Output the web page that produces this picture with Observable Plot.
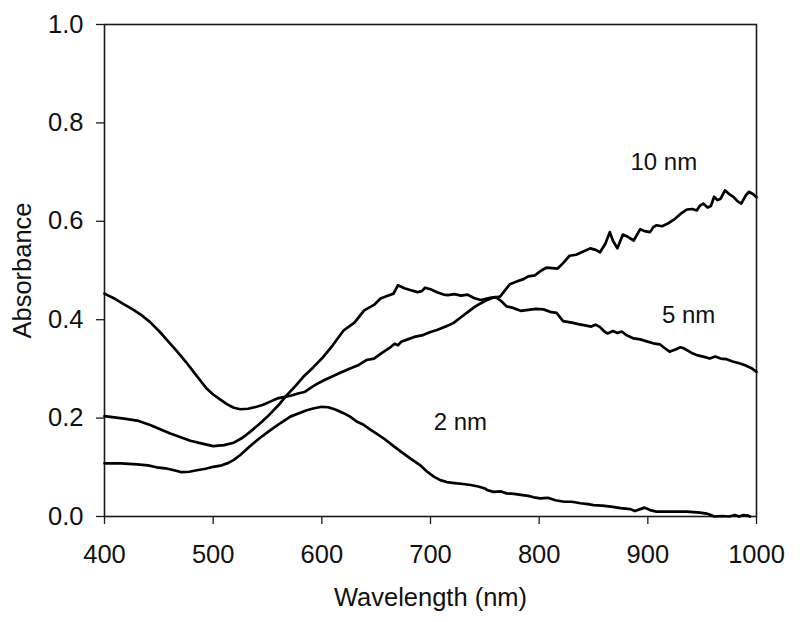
<!DOCTYPE html>
<html>
<head>
<meta charset="utf-8">
<script src="https://cdn.jsdelivr.net/npm/d3@7"></script>
<script src="https://cdn.jsdelivr.net/npm/@observablehq/plot@0.6"></script>
<style>
  html, body { margin: 0; padding: 0; background: #fff; }
  #chart { width: 800px; height: 622px; }
</style>
</head>
<body>
<div id="chart"></div>
<script>
// ---- Data ----
const xTicks = [400, 500, 600, 700, 800, 900, 1000];
const yTicks = [0, 0.2, 0.4, 0.6, 0.8, 1.0];

const wl2nm = [400,415,430,440,448,456,464,471,478,485,493,500,508,514,519,525,531,537,545,553,562,571,579,586,593,600,606,613,620,626,632,638,645,650,658,666,674,682,690,697,703,709,715,722,730,737,744,750,752,758,765,770,777,783,790,795,801,808,815,823,830,838,845,850,858,866,875,884,888,893,897,902,908,915,922,930,936,942,948,954,958,961,968,975,980,984,988,992,994];
const abs2nm = [0.108,0.108,0.106,0.104,0.100,0.098,0.094,0.090,0.091,0.094,0.097,0.101,0.104,0.109,0.115,0.125,0.137,0.149,0.163,0.176,0.190,0.203,0.210,0.216,0.220,0.223,0.222,0.217,0.210,0.203,0.193,0.187,0.176,0.169,0.157,0.143,0.130,0.117,0.105,0.091,0.081,0.074,0.070,0.068,0.066,0.064,0.061,0.057,0.054,0.050,0.051,0.047,0.046,0.044,0.042,0.039,0.037,0.038,0.033,0.030,0.030,0.027,0.025,0.023,0.022,0.020,0.017,0.015,0.011,0.015,0.018,0.013,0.010,0.010,0.010,0.010,0.010,0.009,0.008,0.006,0.003,0.000,0.001,0.000,0.003,0.000,0.003,0.002,0.000];

const wl5nm = [400,418,430,442,460,479,490,500,510,519,527,534,542,550,560,568,576,583,592,600,610,620,630,639,648,654,660,666,670,676,682,688,692,695,700,706,712,716,722,728,734,740,746,752,756,760,765,770,776,783,790,797,804,810,816,822,830,836,841,848,852,856,860,863,868,872,876,880,887,893,899,905,911,915,920,926,930,933,940,945,951,957,962,967,972,978,985,990,995,1000];
const abs5nm = [0.204,0.199,0.195,0.186,0.169,0.154,0.148,0.143,0.145,0.150,0.160,0.172,0.187,0.203,0.226,0.247,0.266,0.284,0.303,0.321,0.348,0.378,0.394,0.419,0.430,0.443,0.448,0.453,0.470,0.464,0.460,0.456,0.458,0.465,0.462,0.456,0.451,0.450,0.452,0.449,0.451,0.444,0.440,0.443,0.445,0.446,0.438,0.427,0.424,0.418,0.420,0.422,0.421,0.416,0.414,0.397,0.394,0.391,0.389,0.386,0.390,0.385,0.376,0.372,0.377,0.373,0.376,0.369,0.362,0.360,0.356,0.352,0.350,0.343,0.335,0.340,0.344,0.342,0.333,0.328,0.325,0.321,0.325,0.321,0.320,0.315,0.311,0.307,0.302,0.294];

const wl10nm = [400,410,418,426,433,442,451,459,467,475,482,488,494,500,507,513,519,525,532,540,546,552,559,566,572,578,584,590,596,602,610,618,626,634,641,648,655,662,667,670,673,679,685,692,700,706,714,721,728,734,740,746,752,758,764,768,773,780,786,790,796,802,807,812,817,822,828,834,840,847,852,856,861,865,868,872,877,882,887,893,897,902,905,908,913,918,925,930,936,941,945,948,951,955,958,961,964,967,971,975,979,983,986,990,993,997,1000];
const abs10nm = [0.453,0.442,0.431,0.421,0.411,0.395,0.375,0.355,0.335,0.314,0.294,0.277,0.260,0.248,0.237,0.228,0.221,0.218,0.219,0.223,0.227,0.233,0.240,0.243,0.246,0.250,0.253,0.262,0.270,0.277,0.285,0.293,0.301,0.308,0.318,0.321,0.332,0.342,0.351,0.348,0.355,0.360,0.365,0.368,0.375,0.379,0.386,0.393,0.405,0.415,0.425,0.433,0.440,0.445,0.447,0.458,0.472,0.478,0.483,0.488,0.490,0.500,0.506,0.505,0.504,0.515,0.530,0.532,0.538,0.545,0.542,0.537,0.555,0.578,0.560,0.545,0.573,0.568,0.561,0.584,0.580,0.578,0.588,0.592,0.590,0.595,0.605,0.615,0.624,0.625,0.622,0.632,0.636,0.628,0.631,0.650,0.643,0.646,0.663,0.655,0.649,0.640,0.636,0.652,0.660,0.655,0.649];

const labelTexts = ["10 nm", "5 nm", "2 nm"];
const labelX = [884, 913, 703];
const labelY = [0.704, 0.393, 0.176];

// ---- Build tidy rows ----
const series = [
  {name: "2 nm", wl: wl2nm, abs: abs2nm},
  {name: "5 nm", wl: wl5nm, abs: abs5nm},
  {name: "10 nm", wl: wl10nm, abs: abs10nm}
];
const rows = series.flatMap(s => s.wl.map((w, i) => ({series: s.name, wl: w, a: s.abs[i]})));
const labels = labelTexts.map((t, i) => ({t, x: labelX[i], y: labelY[i]}));

const ink = "#1a1a1a";
const chart = Plot.plot({
  width: 800,
  height: 622,
  marginLeft: 104,
  marginRight: 44,
  marginTop: 24,
  marginBottom: 106,
  style: {fontFamily: "'Liberation Sans', Arial, sans-serif", fontSize: "25.5px", color: "#111", background: "#fff"},
  x: {domain: [400, 1000]},
  y: {domain: [0, 1]},
  marks: [
    Plot.axisX({ticks: xTicks, tickFormat: d3.format("d"), tickSize: 8, tickPadding: 20, stroke: ink, strokeWidth: 1.3,
      label: "Wavelength (nm)", labelAnchor: "center", labelArrow: "none", labelOffset: 89, fontSize: 25.5}),
    Plot.axisY({ticks: yTicks, tickFormat: d3.format(".1f"), tickSize: 8, tickPadding: 13, stroke: ink, strokeWidth: 1.3,
      label: "Absorbance", labelAnchor: "center", labelArrow: "none", labelOffset: 92, fontSize: 25.5}),
    Plot.frame({stroke: ink, strokeWidth: 1.6}),
    Plot.line(rows, {x: "wl", y: "a", z: "series", stroke: "#000", strokeWidth: 2.7, strokeLinejoin: "round"}),
    Plot.text(labels, {x: "x", y: "y", text: "t", textAnchor: "start", lineAnchor: "bottom", fontSize: 24, fill: "#111"})
  ]
});
document.getElementById("chart").appendChild(chart);
</script>
</body>
</html>
